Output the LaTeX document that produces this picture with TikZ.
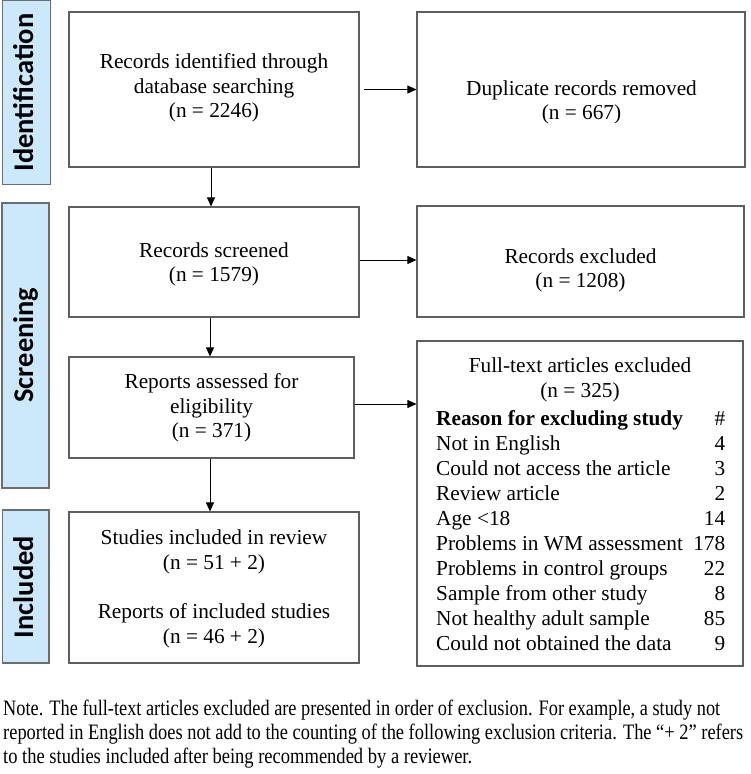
\documentclass[tikz,border=0pt]{standalone}
\usepackage{fontspec}
\usepackage{graphicx}
\setmainfont{Liberation Serif}
\newfontfamily\lblfont{Carlito}
\usetikzlibrary{arrows.meta}
\definecolor{boxgray}{RGB}{95,95,95}
\definecolor{phasegray}{RGB}{105,110,115}
\definecolor{phaseblue}{RGB}{204,233,251}
\begin{document}
\begin{tikzpicture}[x=1pt,y=-1pt,
  box/.style={draw=boxgray, line width=1.1pt, inner sep=0pt},
  phase/.style={draw=phasegray, fill=phaseblue, line width=1.1pt, inner sep=0pt},
  phasetxt/.style={rotate=90, anchor=base, inner sep=0pt, font=\lblfont\bfseries\fontsize{28.5}{30}\selectfont},
  txt/.style={align=center, inner sep=0pt, font=\fontsize{21.3}{24.5}\selectfont},
  notetxt/.style={anchor=base west, inner sep=0pt, font=\fontsize{22}{24}\selectfont},
  arr/.style={-{Triangle[length=9pt,width=8pt]}, line width=0.8pt, black},
]
\useasboundingbox (0,0) rectangle (750,774);

% phase labels
\node[phase, minimum width=48pt, minimum height=184pt] (pid) at (26.5,92.75) {};
\node[phasetxt] (pidt) at (33,92.5) {Identification};
\node[phase, minimum width=47pt, minimum height=285pt] (pscr) at (25.5,345.5) {};
\node[phasetxt] (pscrt) at (33,345) {Screening};
\node[phase, minimum width=46.5pt, minimum height=153pt] (pinc) at (25.75,586.5) {};
\node[phasetxt] (pinct) at (33,587) {Included};

% boxes
\node[box, minimum width=290pt, minimum height=155pt] (b1) at (214,89.5) {};
\node[txt] (b1t) at (214,88) {Records identified through\\database searching\\(n = 2246)};
\node[box, minimum width=328pt, minimum height=155pt] (dup) at (581,89.5) {};
\node[txt] (dupt) at (581.5,102.5) {Duplicate records removed\\(n = 667)};

\node[box, minimum width=290pt, minimum height=110pt] (b2) at (214,262) {};
\node[txt] (b2t) at (214,264.5) {Records screened\\(n = 1579)};
\node[box, minimum width=327pt, minimum height=111pt] (rex) at (580.5,261.5) {};
\node[txt] (rext) at (580.5,270.5) {Records excluded\\(n = 1208)};

\node[box, minimum width=285pt, minimum height=101pt] (b3) at (211.5,407.5) {};
\node[txt] (b3t) at (211.5,408) {Reports assessed for\\eligibility\\(n = 371)};

\node[box, minimum width=326pt, minimum height=325pt] (ft) at (580,503.5) {};
\node[txt] (ftt) at (580,380) {Full-text articles excluded\\(n = 325)};
\node[anchor=base west, inner sep=0pt, font=\fontsize{21.3}{25}\selectfont] (tab) at (436,425)
{\begin{tabular*}{289pt}[t]{@{}l@{\extracolsep{\fill}}r@{}}
\textbf{Reason for excluding study} & \# \\
Not in English & 4 \\
Could not access the article & 3 \\
Review article & 2 \\
Age <18 & 14 \\
Problems in WM assessment & 178 \\
Problems in control groups & 22 \\
Sample from other study & 8 \\
Not healthy adult sample & 85 \\
Could not obtained the data & 9
\end{tabular*}};

\node[box, minimum width=290pt, minimum height=151pt] (b4) at (214,587.5) {};
\node[txt] (b4t) at (214,589) {Studies included in review\\(n = 51 + 2)\\[25pt]Reports of included studies\\(n = 46 + 2)};

% connectors
\draw[arr, shorten <=4pt] (b1.east) -- (dup.west);
\draw[arr] ([xshift=-3pt]b1.south) -- ([xshift=-3pt]b2.north);
\draw[arr] ([yshift=2pt]b2.east) -- ([yshift=2pt]b2.east -| rex.west);
\draw[arr] ([xshift=-4pt]b2.south) -- ([xshift=-4pt]b2.south |- b3.north);
\draw[arr] ([yshift=3.5pt]b3.east) -- ([yshift=3.5pt]b3.east -| ft.west);
\draw[arr] ([xshift=-1.5pt]b3.south) -- ([xshift=-1.5pt]b3.south |- b4.north);

% note
\node[notetxt] (n1) at (3,715) {\resizebox{717pt}{\height}{Note. The full-text articles excluded are presented in order of exclusion. For example, a study not}};
\node[notetxt] (n2) at (3,739) {\resizebox{740pt}{\height}{reported in English does not add to the counting of the following exclusion criteria. The “+ 2” refers}};
\node[notetxt] (n3) at (3,763) {\resizebox{469pt}{\height}{to the studies included after being recommended by a reviewer.}};
\end{tikzpicture}
\end{document}
